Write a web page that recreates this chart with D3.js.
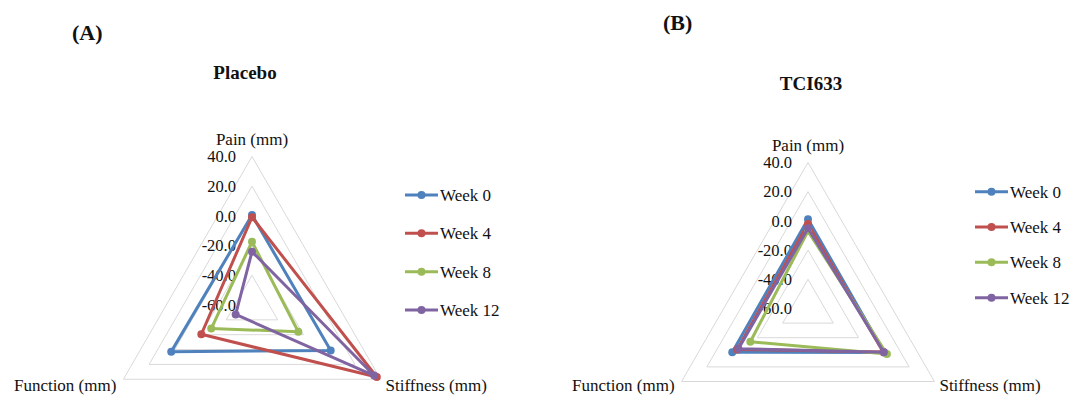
<!DOCTYPE html>
<html>
<head>
<meta charset="utf-8">
<script src="https://cdn.jsdelivr.net/npm/d3@7"></script>
<style>
  html, body { margin: 0; padding: 0; background: #fff; }
  svg { display: block; }
</style>
</head>
<body>
<svg id="chart" width="1069" height="395" font-family="'Liberation Serif', 'Times New Roman', serif"></svg>
<script>
// ---- data ----
const axisNames = ["Pain (mm)", "Stiffness (mm)", "Function (mm)"];
const weeks = ["Week 0", "Week 4", "Week 8", "Week 12"];
const tickValues = [40, 20, 0, -20, -40, -60];
const gridLevels = [40, 20, 0, -20, -40];
const placeboValues = [
  [0.6, 1.2, 2.8],      // Week 0: pain, stiffness, function
  [-0.9, 37.0, -20.6],  // Week 4
  [-17.4, -24.0, -28.3],// Week 8
  [-24.1, 35.0, -47.3]  // Week 12
];
const tci633Values = [
  [1.2, 0.3, -0.1],
  [-2.2, -0.5, -4.0],
  [-7.0, 2.4, -14.4],
  [-5.0, 0.0, -5.0]
];
const seriesColors = ["#4F81BD", "#C0504D", "#9BBB59", "#8064A2"];

// ---- drawing ----
const svg = d3.select("#chart");
const locale = d3.formatLocale({decimal: ".", thousands: ",", grouping: [3], currency: ["", ""], minus: "-"});
const fmt = locale.format(".1f");
const ink = "#111";

function drawRadar(cfg) {
  const g = svg.append("g");
  const r = d3.scaleLinear().domain([-60, 40]).range([0, cfg.R]);
  const ang = d3.scaleLinear().domain([0, axisNames.length]).range([0, 2 * Math.PI]);
  const pt = (i, v) => {
    const a = ang(i);
    return [cfg.cx + r(v) * Math.sin(a), cfg.cy - r(v) * Math.cos(a)];
  };
  const line = d3.line();

  // grid rings
  g.selectAll("path.grid").data(gridLevels).join("path")
    .attr("class", "grid")
    .attr("d", lv => line(axisNames.map((_, i) => pt(i, lv))) + "Z")
    .attr("fill", "none").attr("stroke", "#D9D9D9").attr("stroke-width", 1);

  // tick labels
  g.selectAll("text.tick").data(tickValues).join("text")
    .attr("class", "tick")
    .attr("x", cfg.cx - 16)
    .attr("y", v => pt(0, v)[1])
    .attr("dy", "0.35em")
    .attr("text-anchor", "end")
    .attr("font-size", 16.5)
    .attr("fill", ink)
    .text(v => fmt(v));

  // axis labels
  const pTop = pt(0, 40), pRight = pt(1, 40), pLeft = pt(2, 40);
  g.append("text").attr("x", pTop[0]).attr("y", pTop[1] - 17).attr("dy", "0.35em")
    .attr("text-anchor", "middle").attr("font-size", 17).attr("fill", ink).text(axisNames[0]);
  g.append("text").attr("x", pRight[0] + 5).attr("y", cfg.labelY).attr("dy", "0.35em")
    .attr("text-anchor", "start").attr("font-size", 17).attr("fill", ink).text(axisNames[1]);
  g.append("text").attr("x", pLeft[0] - 7).attr("y", cfg.labelY).attr("dy", "0.35em")
    .attr("text-anchor", "end").attr("font-size", 17).attr("fill", ink).text(axisNames[2]);

  // series
  cfg.values.forEach((vals, s) => {
    const pts = vals.map((v, i) => pt(i, v));
    g.append("path").attr("d", line(pts) + "Z")
      .attr("fill", "none").attr("stroke", seriesColors[s])
      .attr("stroke-width", 3).attr("stroke-linejoin", "round");
    g.selectAll(null).data(pts).join("circle")
      .attr("cx", d => d[0]).attr("cy", d => d[1]).attr("r", 4)
      .attr("fill", seriesColors[s]);
  });

  // titles
  svg.append("text").attr("x", cfg.tagX).attr("y", cfg.tagY).attr("dy", "0.35em")
    .attr("font-size", 22).attr("font-weight", "bold").attr("fill", ink).text(cfg.tag);
  svg.append("text").attr("x", cfg.titleX).attr("y", cfg.titleY).attr("dy", "0.35em")
    .attr("text-anchor", "middle").attr("font-size", 19).attr("font-weight", "bold").attr("fill", ink).text(cfg.title);

  // legend
  const lg = svg.append("g");
  const ly = d3.scalePoint().domain(weeks).range([cfg.legY0, cfg.legY1]);
  weeks.forEach((w, s) => {
    const y = ly(w);
    lg.append("line").attr("x1", cfg.legX).attr("x2", cfg.legX + 33).attr("y1", y).attr("y2", y)
      .attr("stroke", seriesColors[s]).attr("stroke-width", 3);
    lg.append("circle").attr("cx", cfg.legX + 16.5).attr("cy", y).attr("r", 4).attr("fill", seriesColors[s]);
    lg.append("text").attr("x", cfg.legX + 35).attr("y", y).attr("dy", "0.35em")
      .attr("font-size", 17).attr("fill", ink).text(w);
  });
}

drawRadar({cx: 252, cy: 305, R: 148.5, values: placeboValues, labelY: 385,
  tag: "(A)", tagX: 72, tagY: 32, title: "Placebo", titleX: 245, titleY: 72,
  legX: 405, legY0: 195, legY1: 310});
drawRadar({cx: 808, cy: 308.5, R: 146, values: tci633Values, labelY: 385,
  tag: "(B)", tagX: 663, tagY: 22, title: "TCI633", titleX: 811, titleY: 83,
  legX: 975, legY0: 191.7, legY1: 297.7});
</script>
</body>
</html>
